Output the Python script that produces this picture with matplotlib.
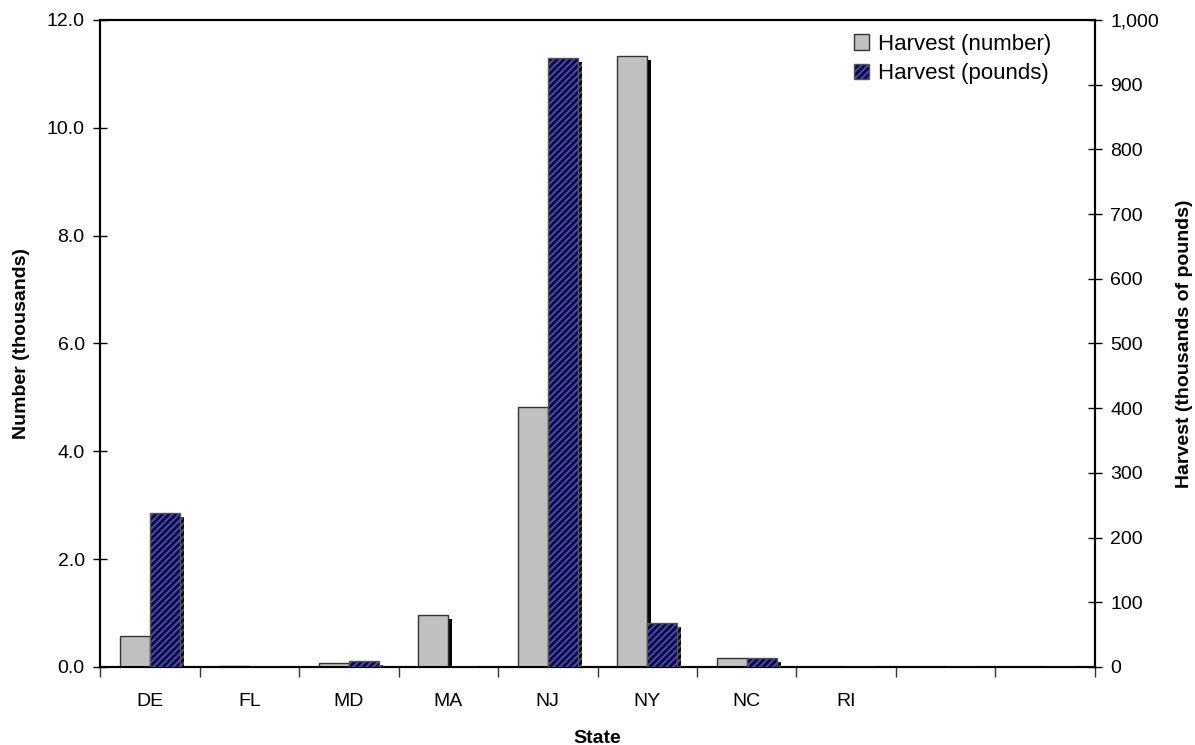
import matplotlib
matplotlib.use("Agg")
import matplotlib.pyplot as plt
import matplotlib.patheffects as pe
from matplotlib.patches import Patch
import numpy as np

# data
states = ["DE", "FL", "MD", "MA", "NJ", "NY", "NC", "RI", "", ""]
harvest_number = [0.58, 0.02, 0.08, 0.97, 4.82, 11.33, 0.16, 0.0, 0.0, 0.0]   # thousands
harvest_pounds = [238, 0, 9, 0, 941, 68, 14, 0, 0, 0]                           # thousands of pounds

plt.rcParams["font.family"] = ["Liberation Sans", "DejaVu Sans"]
plt.rcParams["hatch.color"] = "#d0d0d0"
plt.rcParams["hatch.linewidth"] = 1.4

fig = plt.figure(figsize=(11.95, 7.45), dpi=100)
ax1 = fig.add_axes([0.0837, 0.1047, 0.8326, 0.8685])
ax2 = ax1.twinx()

x = np.arange(len(states))
w = 0.3
shadow = [pe.SimplePatchShadow(offset=(3, -3), shadow_rgbFace="black", alpha=1.0), pe.Normal()]

b1 = ax1.bar(x - w / 2, harvest_number, width=w, color="#c0c0c0",
             edgecolor="#333333", linewidth=1.0, zorder=3)
b2 = ax2.bar(x + w / 2, harvest_pounds, width=w, color="#000080",
             edgecolor="#555555", linewidth=1.0, hatch="/////", zorder=3)
for bars in (b1, b2):
    for r in bars:
        if r.get_height() > 0:
            r.set_path_effects(shadow)

ax1.set_xlim(-0.5, len(states) - 0.5)
ax1.set_ylim(0, 12)
ax2.set_ylim(0, 1000)
ax1.set_yticks(np.arange(0, 12.1, 2))
ax1.set_yticklabels([f"{v:.1f}" for v in np.arange(0, 12.1, 2)])
ax2.set_yticks(np.arange(0, 1001, 100))
ax2.set_yticklabels([f"{v:,}" for v in range(0, 1001, 100)])

# category boundaries as tick marks, labels at centers
ax1.set_xticks(np.arange(-0.5, len(states), 1.0))
ax1.set_xticklabels([])
ax1.set_xticks(x, minor=True)
ax1.set_xticklabels(states, minor=True)
ax1.tick_params(axis="x", which="major", direction="out", length=7, width=1, color="#333333")
ax1.tick_params(axis="x", which="minor", length=0, pad=19, labelsize=14)
ax1.tick_params(axis="y", direction="inout", length=10, width=1, labelsize=14, pad=6)
ax2.tick_params(axis="y", direction="inout", length=10, width=1, labelsize=14, pad=6)

for ax in (ax1, ax2):
    for s in ax.spines.values():
        s.set_linewidth(1.5)
        s.set_color("black")

ax1.set_xlabel("State", fontsize=14, fontweight="bold", labelpad=14)
ax1.set_ylabel("Number (thousands)", fontsize=14, fontweight="bold", labelpad=12)
ax2.set_ylabel("Harvest (thousands of pounds)", fontsize=14, fontweight="bold", labelpad=12)

handles = [Patch(facecolor="#c0c0c0", edgecolor="#333333"),
           Patch(facecolor="#000080", edgecolor="#555555", hatch="/////")]
ax2.legend(handles, ["Harvest (number)", "Harvest (pounds)"], loc="upper right",
           bbox_to_anchor=(0.972, 1.003), frameon=False, fontsize=16,
           handlelength=0.7, handleheight=0.7, handletextpad=0.4, labelspacing=0.4,
           borderaxespad=0.3)

fig.savefig("out.png", dpi=100)
